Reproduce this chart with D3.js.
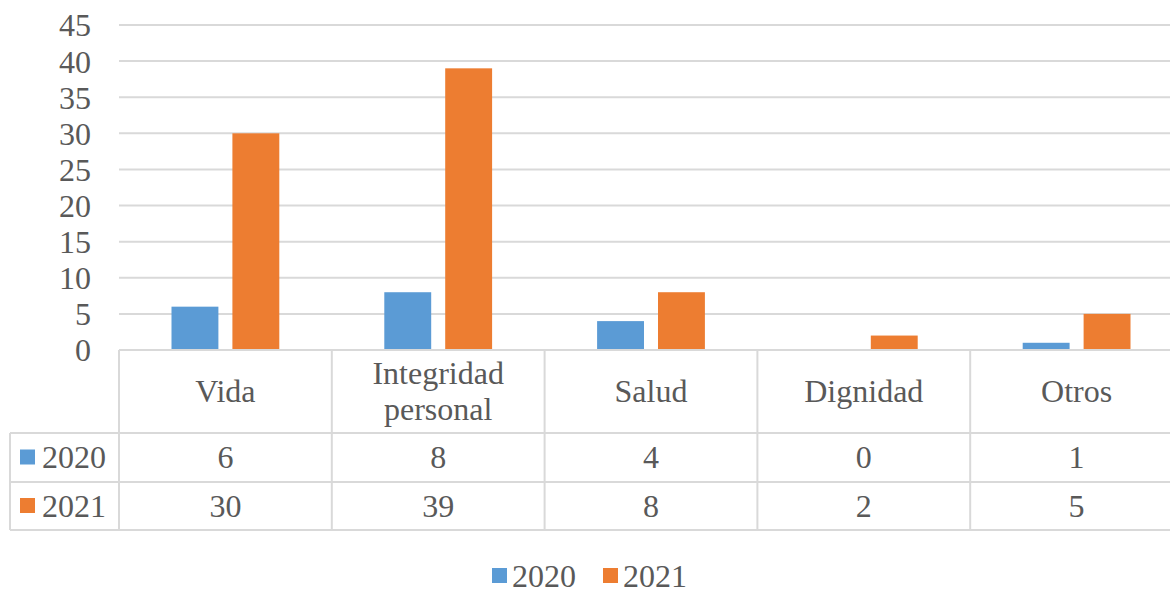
<!DOCTYPE html>
<html>
<head>
  <meta charset="UTF-8">
  <script src="https://cdn.jsdelivr.net/npm/d3@7"></script>
  <style>
    body { margin: 0; background: #fff; }
    svg text { font-family: "Liberation Serif", "Times New Roman", serif; fill: #595959; }
  </style>
</head>
<body>
<svg id="chart" width="1170" height="590"></svg>
<script>
// data
var categories = ["Vida", "Integridad personal", "Salud", "Dignidad", "Otros"];
var series = ["2020", "2021"];
var values2020 = [6, 8, 4, 0, 1];
var values2021 = [30, 39, 8, 2, 5];
var colors = ["#5b9bd5", "#ed7d31"];
var yTicks = [0, 5, 10, 15, 20, 25, 30, 35, 40, 45];

var seriesValues = [values2020, values2021];

var svg = d3.select("#chart");
var fontSize = 32;

// plot box (plotTop, not "top": that one belongs to window)
var plotLeft = 119, plotRight = 1183, plotTop = 25, base = 350;
var rowLines = [350, 433, 482, 530];
var tableLeft = 10;
var gridColor = "#d9d9d9";

var x = d3.scaleBand().domain(categories).range([plotLeft, plotRight]);
var inner = d3.scaleBand().domain(series)
  .range([52.5, x.bandwidth() - 52.5])
  .paddingInner(0.23);
var y = d3.scaleLinear().domain([0, 45]).range([base, plotTop]);

// gridlines
svg.append("g").selectAll("line")
  .data(yTicks)
  .enter().append("line")
  .attr("x1", plotLeft).attr("x2", plotRight)
  .attr("y1", function(d) { return y(d); })
  .attr("y2", function(d) { return y(d); })
  .attr("stroke", gridColor)
  .attr("stroke-width", 2);

// y axis labels
var yAxis = svg.append("g")
  .attr("transform", "translate(91,0)")
  .call(d3.axisLeft(y).tickValues(yTicks).tickSize(0).tickPadding(0));
yAxis.select(".domain").remove();
yAxis.selectAll("text")
  .attr("font-size", fontSize)
  .attr("dy", "0.34em")
  .style("font-family", "Liberation Serif")
  .attr("fill", "#595959");

// bars
var groups = svg.append("g").selectAll("g")
  .data(categories)
  .enter().append("g")
  .attr("transform", function(d) { return "translate(" + x(d) + ",0)"; });

groups.selectAll("rect")
  .data(function(d, i) {
    return series.map(function(s, j) { return { s: s, j: j, v: seriesValues[j][i] }; });
  })
  .enter().append("rect")
  .attr("x", function(d) { return inner(d.s); })
  .attr("width", inner.bandwidth())
  .attr("y", function(d) { return y(d.v); })
  .attr("height", function(d) { return base - y(d.v); })
  .attr("fill", function(d) { return colors[d.j]; });

// data table
var table = svg.append("g");
rowLines.forEach(function(ly, i) {
  table.append("line")
    .attr("x1", i === 0 ? plotLeft : tableLeft).attr("x2", plotRight)
    .attr("y1", ly).attr("y2", ly)
    .attr("stroke", gridColor).attr("stroke-width", 2);
});
categories.forEach(function(c) {
  table.append("line")
    .attr("x1", x(c)).attr("x2", x(c))
    .attr("y1", base).attr("y2", rowLines[3])
    .attr("stroke", gridColor).attr("stroke-width", 2);
});
table.append("line")
  .attr("x1", tableLeft).attr("x2", tableLeft)
  .attr("y1", rowLines[1]).attr("y2", rowLines[3])
  .attr("stroke", gridColor).attr("stroke-width", 2);

// category labels
var catMid = (rowLines[0] + rowLines[1]) / 2;
categories.forEach(function(c) {
  var words = c.split(" ");
  var t = table.append("text")
    .attr("text-anchor", "middle")
    .attr("font-size", fontSize);
  var lh = 36;
  var y0 = catMid - (words.length - 1) * lh / 2;
  words.forEach(function(w, k) {
    t.append("tspan")
      .attr("x", x(c) + x.bandwidth() / 2)
      .attr("y", y0 + k * lh)
      .attr("dy", "0.33em")
      .text(w);
  });
});

// value rows
series.forEach(function(s, j) {
  var ry = (rowLines[j + 1] + rowLines[j + 2]) / 2;
  table.append("rect")
    .attr("x", 20).attr("y", ry - 8)
    .attr("width", 15).attr("height", 15)
    .attr("fill", colors[j]);
  table.append("text")
    .attr("x", 42).attr("y", ry).attr("dy", "0.34em")
    .attr("font-size", fontSize)
    .text(s);
  categories.forEach(function(c, i) {
    table.append("text")
      .attr("x", x(c) + x.bandwidth() / 2).attr("y", ry).attr("dy", "0.34em")
      .attr("text-anchor", "middle")
      .attr("font-size", fontSize)
      .text(seriesValues[j][i]);
  });
});

// legend
var legend = svg.append("g").attr("transform", "translate(492,576)");
var lx = 0;
series.forEach(function(s, j) {
  legend.append("rect")
    .attr("x", lx).attr("y", -8)
    .attr("width", 15).attr("height", 15)
    .attr("fill", colors[j]);
  legend.append("text")
    .attr("x", lx + 20).attr("y", 0).attr("dy", "0.34em")
    .attr("font-size", fontSize)
    .text(s);
  lx += 111;
});
</script>
</body>
</html>
